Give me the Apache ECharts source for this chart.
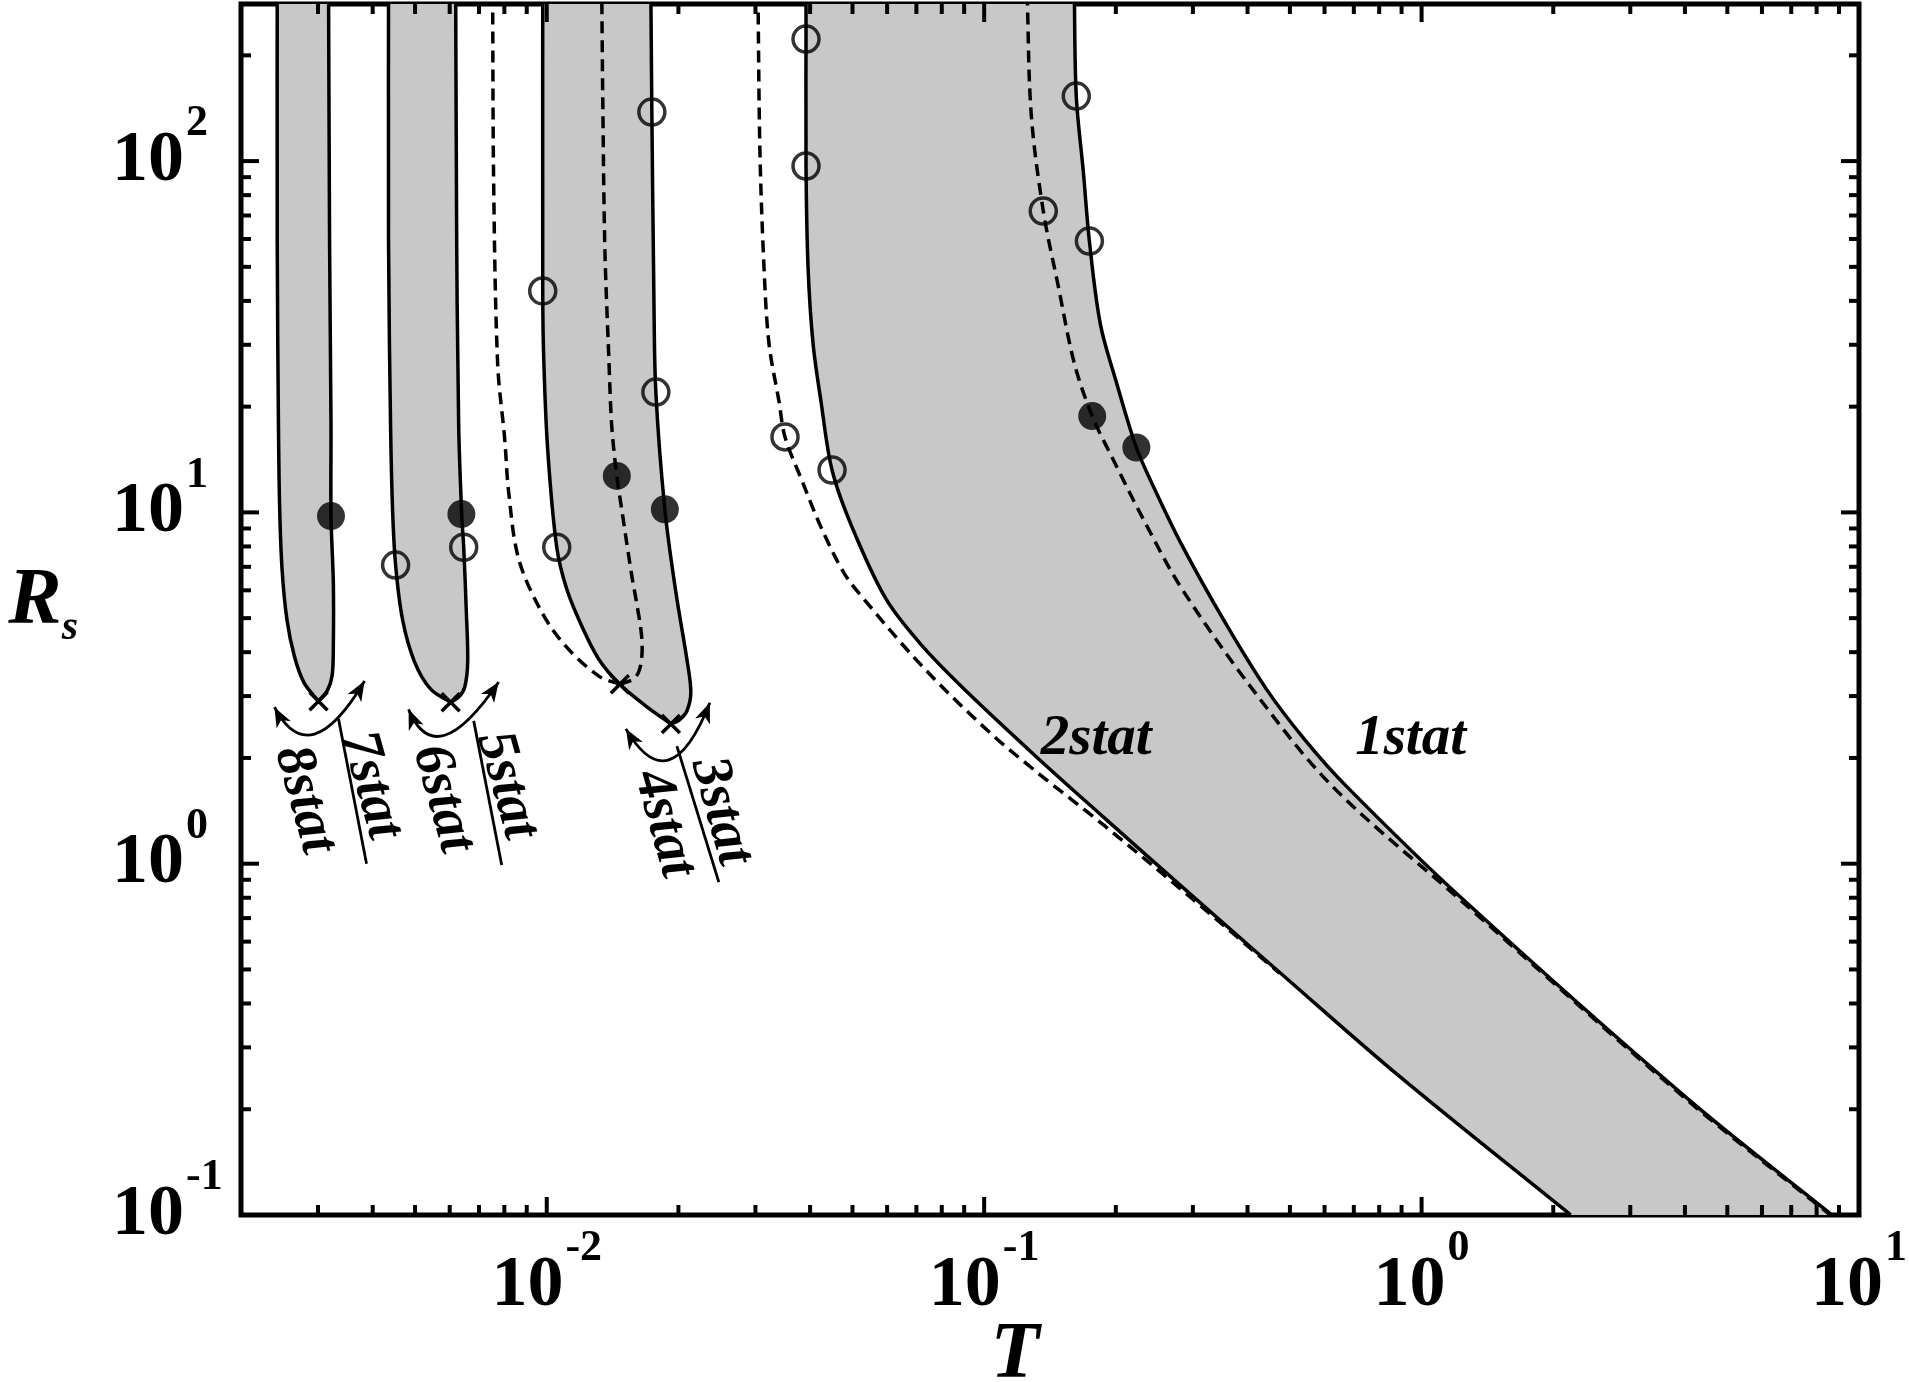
<!DOCTYPE html>
<html><head><meta charset="utf-8">
<script src="https://cdn.jsdelivr.net/npm/echarts@6/dist/echarts.min.js"></script>
<style>html,body{margin:0;padding:0;background:#fff}#c{width:1909px;height:1382px}</style>
</head><body><div id="c"></div><script>
// ---- axis extents & ticks ----
const xMin = 0.002, xMax = 10, yMin = 0.1, yMax = 280;
const xMajorTicks = [0.01, 0.1, 1, 10];
const xMinorTicks = [0.003,0.004,0.005,0.006,0.007,0.008,0.009,0.02,0.03,0.04,0.05,0.06,0.07,0.08,0.09,0.2,0.3,0.4,0.5,0.6,0.7,0.8,0.9,2,3,4,5,6,7,8,9];
const yMajorTicks = [0.1, 1, 10, 100];
const yMinorTicks = [0.2,0.3,0.4,0.5,0.6,0.7,0.8,0.9,2,3,4,5,6,7,8,9,20,30,40,50,60,70,80,90,200];

// ---- curves [T, Rs] ----
const regA_left  = [[0.00242,300],[0.00242,58.8],[0.002436,17.7],[0.002452,10.15],[0.002484,6.81],[0.002548,4.94],[0.002648,3.90],[0.002788,3.27],[0.003008,2.90]];
const regA_right = [[0.003171,300],[0.003188,58.8],[0.003212,17.7],[0.003212,9.76],[0.003252,6.29],[0.003252,4.22],[0.003232,3.44],[0.00315,3.11],[0.003008,2.90]];
const regB_left  = [[0.004348,300],[0.004348,58.8],[0.004395,17.7],[0.004442,10.15],[0.004513,7.08],[0.004683,4.94],[0.004988,3.75],[0.005428,3.14],[0.00603,2.88]];
const regB_right = [[0.006192,300],[0.006225,58.8],[0.00629,17.7],[0.006391,9.89],[0.006459,7.96],[0.006544,5.34],[0.006596,3.75],[0.006493,3.18],[0.00629,2.98],[0.00603,2.88]];
const dashU_outer = [[0.007522,300],[0.007562,87.1],[0.007724,26.4],[0.008014,16.2],[0.008185,11.4],[0.008628,7.36],[0.009741,5.20],[0.01105,4.16],[0.01315,3.42],[0.01469,3.24]];
const dashU_inner = [[0.01469,3.24],[0.0159,3.38],[0.01641,3.70],[0.0165,4.36],[0.01607,5.48],[0.01565,6.59],[0.01484,10.2],[0.01446,12.7],[0.01408,17.6],[0.01387,27.3],[0.01358,56.2],[0.01343,150],[0.01336,300]];
const regC_left  = [[0.009791,300],[0.009791,42.7],[0.009843,27.3],[0.01005,15.1],[0.01054,7.96],[0.01111,6.05],[0.01202,4.75],[0.01315,3.82],[0.01469,3.24],[0.01685,2.81],[0.01922,2.50]];
const regC_right = [[0.0173,300],[0.01739,137.9],[0.01758,40.5],[0.01776,22.0],[0.01862,10.2],[0.01973,5.93],[0.02091,3.82],[0.02135,3.08],[0.02091,2.72],[0.02005,2.56],[0.01922,2.50]];
const dash2 = [[0.0304,300],[0.03072,106.1],[0.03138,49.9],[0.03221,30.3],[0.03396,20.7],[0.03505,16.4],[0.03834,12.3],[0.04236,9.08],[0.04782,6.72],[0.05313,5.66],[0.07213,3.65],[0.1027,2.37],[0.1336,1.80],[0.1852,1.305],[0.2961,0.803],[0.4733,0.488]];
const solid2 = [[0.03915,300],[0.03915,222.5],[0.03915,96.8],[0.03957,49.9],[0.04062,30.3],[0.04236,20.7],[0.0449,13.2],[0.04988,9.08],[0.05969,5.66],[0.07251,4.14],[0.09145,3.08],[0.1302,2.04],[0.1852,1.375],[0.2961,0.819],[0.4733,0.491],[0.8907,0.248],[2.193,0.1]];
const solid1 = [[0.1607,300],[0.1624,153.1],[0.1685,93.6],[0.174,59.2],[0.1843,34.4],[0.2005,23.5],[0.2228,15.3],[0.2449,11.7],[0.2824,8.12],[0.3541,4.90],[0.4418,3.14],[0.5399,2.26],[0.6736,1.66],[1.241,0.793],[4.062,0.214],[8.675,0.1]];
const dash1 = [[0.1254,300],[0.1281,136.1],[0.1365,72.1],[0.1477,44.1],[0.1607,26.6],[0.1766,18.8],[0.1963,14.3],[0.2323,9.45],[0.2824,6.09],[0.4105,3.14],[0.6255,1.66],[1.22,0.793],[4.02,0.214],[8.6,0.1]];

// ---- markers ----
const filledDots = [[0.003212,9.76],[0.00638,9.89],[0.01446,12.7],[0.01862,10.2],[0.1766,18.8],[0.2228,15.3]];
const openCircles = [[0.004513,7.08],[0.006459,7.96],[0.009791,42.7],[0.01054,7.96],[0.01739,137.9],[0.01776,22.0],[0.03505,16.4],[0.03915,222.5],[0.03915,96.8],[0.0449,13.2],[0.1365,72.1],[0.1624,153.1],[0.174,59.2]];
const crosses = [[0.003008,2.90],[0.00603,2.88],[0.01469,3.24],[0.01922,2.50]];

// ---- annotations ----
const arcs = [
  [[0.002385,2.79],[0.002868,1.80],[0.003833,3.31]],
  [[0.004832,2.75],[0.005572,1.79],[0.007765,3.29]],
  [[0.01517,2.42],[0.01912,1.48],[0.0236,2.87]]
];
const leaders = [
  [[0.003342,2.58],[0.003873,1.0]],
  [[0.006808,2.55],[0.007889,0.991]],
  [[0.01984,2.16],[0.02474,0.886]]
];
const statLabels = [['8stat',0.002793,1.52],['7stat',0.003958,1.67],['6stat',0.005781,1.53],['5stat',0.0081,1.67],['4stat',0.01852,1.30],['3stat',0.025,1.41]];
const bigLabels = [['2stat',0.1804,2.26],['1stat',0.9437,2.26]];

const SERIF = '"Liberation Serif","Times New Roman",serif';

function spline(px){
  const n = px.length, d = [], tan = [];
  for (let i=0;i<n-1;i++) d.push(Math.hypot(px[i+1][0]-px[i][0], px[i+1][1]-px[i][1]) || 1e-6);
  for (let i=0;i<n;i++){
    if (i===0) tan.push([(px[1][0]-px[0][0])/d[0],(px[1][1]-px[0][1])/d[0]]);
    else if (i===n-1) tan.push([(px[n-1][0]-px[n-2][0])/d[n-2],(px[n-1][1]-px[n-2][1])/d[n-2]]);
    else { const s=d[i-1]+d[i]; tan.push([(px[i+1][0]-px[i-1][0])/s,(px[i+1][1]-px[i-1][1])/s]); }
  }
  let out='';
  for (let i=0;i<n-1;i++){
    const a=px[i], b=px[i+1], k=d[i]/3;
    out += ' C'+(a[0]+tan[i][0]*k)+','+(a[1]+tan[i][1]*k)+' '+(b[0]-tan[i+1][0]*k)+','+(b[1]-tan[i+1][1]*k)+' '+b[0]+','+b[1];
  }
  return out;
}
function toPx(api, arr){ return arr.map(p => api.coord(p)); }
function curvePath(api, arr){ const p = toPx(api, arr); return 'M'+p[0][0]+','+p[0][1]+spline(p); }

const regions = [[regA_left,regA_right],[regB_left,regB_right],[regC_left,regC_right],[solid2,solid1]];
const solidCurves = [regA_left,regA_right,regB_left,regB_right,regC_left,regC_right,solid2,solid1];
const dashedCurves = [dashU_outer,dashU_inner,dash2,dash1];

const chart = echarts.init(document.getElementById('c'), null, {renderer:'canvas'});

function axisLabelFmt(v){
  const e = Math.log10(v), r = Math.round(e);
  if (Math.abs(e-r) > 1e-6) return '';
  return '{b|10}{s|' + r + '}';
}
const richLbl = {
  b:{fontFamily:SERIF, fontWeight:'bold', fontSize:72, color:'#000', lineHeight:118},
  s:{fontFamily:SERIF, fontWeight:'bold', fontSize:44, color:'#000', lineHeight:44, verticalAlign:'top', padding:[0,0,0,2]}
};

const option = {
  animation:false,
  backgroundColor:'#fff',
  grid:{left:241, right:50, top:4, bottom:167, show:true, borderColor:'#000', borderWidth:5, backgroundColor:'rgba(0,0,0,0)', outerBoundsMode:'none'},
  xAxis:{type:'log', logBase:10, min:xMin, max:xMax,
    axisLine:{show:false}, axisTick:{show:false}, splitLine:{show:false}, minorTick:{show:false},
    axisLabel:{formatter:axisLabelFmt, rich:richLbl, margin:12, showMinLabel:true, showMaxLabel:true, hideOverlap:false},
    name:'T', nameLocation:'middle', nameGap:101, nameMoveOverlap:false,
    nameTextStyle:{fontFamily:SERIF, fontWeight:'bold', fontStyle:'italic', fontSize:80, color:'#000', padding:[0,70,0,0]}
  },
  yAxis:{type:'log', logBase:10, min:yMin, max:yMax,
    axisLine:{show:false}, axisTick:{show:false}, splitLine:{show:false}, minorTick:{show:false},
    axisLabel:{formatter:axisLabelFmt, rich:richLbl, margin:129, align:'left', showMinLabel:true, showMaxLabel:true, hideOverlap:false},
    name:'{r|R}{s|s}', nameLocation:'middle', nameRotate:0, nameGap:163, nameMoveOverlap:false,
    nameTextStyle:{rich:{
      r:{fontFamily:SERIF, fontWeight:'bold', fontStyle:'italic', fontSize:80, color:'#000', verticalAlign:'bottom', lineHeight:80, padding:[0,0,7,0]},
      s:{fontFamily:SERIF, fontWeight:'bold', fontStyle:'italic', fontSize:42, color:'#000', verticalAlign:'bottom', lineHeight:48}
    }}
  },
  series:[
    { // gray regions
      type:'custom', coordinateSystem:'cartesian2d', clip:true, silent:true, z:1, data:[0],
      renderItem:(params, api)=>({type:'group', children: regions.map(([L0,R0])=>{
        const L = toPx(api,L0), R = toPx(api,R0).reverse();
        return {type:'path', shape:{pathData:'M'+L[0][0]+','+L[0][1]+spline(L)+' L'+R[0][0]+','+R[0][1]+spline(R)+' Z'}, style:{fill:'#c8c8c8', stroke:null}};
      })})
    },
    { // solid curves
      type:'custom', coordinateSystem:'cartesian2d', clip:true, silent:true, z:3, data:[0],
      renderItem:(params, api)=>({type:'group', children: solidCurves.map(c=>({type:'path', shape:{pathData:curvePath(api,c)}, style:{fill:null, stroke:'#000', lineWidth:3.5, lineJoin:'round'}}))})
    },
    { // dashed curves
      type:'custom', coordinateSystem:'cartesian2d', clip:true, silent:true, z:3, data:[0],
      renderItem:(params, api)=>({type:'group', children: dashedCurves.map(c=>({type:'path', shape:{pathData:curvePath(api,c)}, style:{fill:null, stroke:'#000', lineWidth:3.5, lineDash:[12,7]}}))})
    },
    { type:'scatter', data:openCircles, symbol:'circle', symbolSize:26, z:5, silent:true,
      itemStyle:{color:'rgba(0,0,0,0)', borderColor:'#000', borderWidth:3.5} },
    { type:'scatter', data:filledDots, symbol:'circle', symbolSize:28, z:5, silent:true,
      itemStyle:{color:'#000'} },
    { type:'custom', coordinateSystem:'cartesian2d', silent:true, z:6, data:crosses,
      renderItem:(params, api)=>{
        const c = api.coord([api.value(0), api.value(1)]), h=9;
        return {type:'group', children:[
          {type:'line', shape:{x1:c[0]-h,y1:c[1]-h,x2:c[0]+h,y2:c[1]+h}, style:{stroke:'#000', lineWidth:3.5}},
          {type:'line', shape:{x1:c[0]-h,y1:c[1]+h,x2:c[0]+h,y2:c[1]-h}, style:{stroke:'#000', lineWidth:3.5}}
        ]};
      }
    },
    { // annotations
      type:'custom', coordinateSystem:'cartesian2d', silent:true, z:7, data:[0],
      renderItem:(params, api)=>{
        const ch=[];
        const head=(tip, from)=>{
          const dx=tip[0]-from[0], dy=tip[1]-from[1], L=Math.hypot(dx,dy), ux=dx/L, uy=dy/L, px=-uy, py=ux, len=20, half=8;
          const bx=tip[0]-ux*len, by=tip[1]-uy*len, nx=tip[0]-ux*len*0.72, ny=tip[1]-uy*len*0.72;
          return {type:'polygon', shape:{points:[tip,[bx+px*half,by+py*half],[nx,ny],[bx-px*half,by-py*half]]}, style:{fill:'#000'}};
        };
        arcs.forEach(a=>{
          const p0=api.coord(a[0]), p1=api.coord(a[1]), p2=api.coord(a[2]);
          ch.push({type:'bezierCurve', shape:{x1:p0[0],y1:p0[1],x2:p2[0],y2:p2[1],cpx1:p1[0],cpy1:p1[1]}, style:{stroke:'#000', lineWidth:2.8, fill:null}});
          ch.push(head(p0,p1)); ch.push(head(p2,p1));
        });
        leaders.forEach(l=>{
          const a=api.coord(l[0]), b=api.coord(l[1]);
          ch.push({type:'line', shape:{x1:a[0],y1:a[1],x2:b[0],y2:b[1]}, style:{stroke:'#000', lineWidth:2.8}});
        });
        statLabels.forEach(s=>{
          const p=api.coord([s[1],s[2]]);
          ch.push({type:'text', x:p[0], y:p[1], rotation:-1.297, style:{text:s[0], fill:'#000', font:'italic bold 56px '+SERIF, align:'center', verticalAlign:'middle'}});
        });
        bigLabels.forEach(s=>{
          const p=api.coord([s[1],s[2]]);
          ch.push({type:'text', x:p[0], y:p[1], style:{text:s[0], fill:'#000', font:'italic bold 57px '+SERIF, align:'center', verticalAlign:'middle'}});
        });
        return {type:'group', children:ch};
      }
    },
    { // axis ticks (inside, all four sides)
      type:'custom', coordinateSystem:'cartesian2d', silent:true, z:8, data:[0],
      renderItem:(params, api)=>{
        const ch=[];
        const add=(x1,y1,x2,y2)=>ch.push({type:'line', shape:{x1,y1,x2,y2}, style:{stroke:'#000', lineWidth:4}});
        const xt=(v,len)=>{const b=api.coord([v,yMin]), t=api.coord([v,yMax]); add(b[0],b[1],b[0],b[1]-len); add(t[0],t[1],t[0],t[1]+len);};
        const yt=(v,len)=>{const l=api.coord([xMin,v]), r=api.coord([xMax,v]); add(l[0],l[1],l[0]+len,l[1]); add(r[0],r[1],r[0]-len,r[1]);};
        xMajorTicks.forEach(v=>xt(v,18)); xMinorTicks.forEach(v=>xt(v,10));
        yMajorTicks.forEach(v=>yt(v,18)); yMinorTicks.forEach(v=>yt(v,10));
        return {type:'group', children:ch};
      }
    }
  ]
};
chart.setOption(option);
</script></body></html>
